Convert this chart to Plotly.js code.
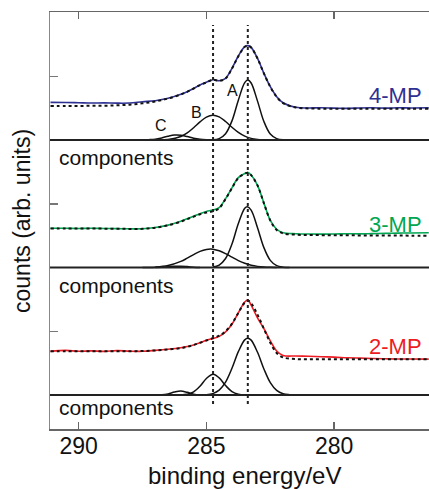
<!DOCTYPE html>
<html>
<head>
<meta charset="utf-8">
<script src="https://cdn.plot.ly/plotly-3.0.1.min.js"></script>
<style>html,body{margin:0;padding:0;background:#fff;}#chart{width:429px;height:489px;}</style>
</head>
<body>
<div id="chart"></div>
<script>
// binding energy grid (eV) for measured spectra and fits
const energy = [291.1, 290.5, 290, 289.5, 289, 288.5, 288, 287.5, 287, 286.5, 286, 285.75, 285.5, 285.25, 285, 284.75, 284.5, 284.25, 284, 283.75, 283.5, 283.375, 283.25, 283, 282.75, 282.5, 282.25, 282, 281.5, 281, 280.5, 280, 279.5, 279, 278.5, 278, 277.5, 277, 276.3];

// 4-MP (counts, arb. units, above its own components baseline)
const mp4Data = [0.59, 0.588, 0.585, 0.58, 0.583, 0.578, 0.58, 0.60, 0.617, 0.654, 0.717, 0.758, 0.81, 0.863, 0.905, 0.946, 0.93, 0.967, 1.124, 1.318, 1.464, 1.48, 1.454, 1.28, 1.046, 0.836, 0.68, 0.585, 0.513, 0.503, 0.506, 0.50, 0.497, 0.503, 0.505, 0.50, 0.506, 0.503, 0.505];
const mp4Fit  = [0.535, 0.535, 0.535, 0.536, 0.538, 0.545, 0.555, 0.575, 0.605, 0.650, 0.715, 0.756, 0.808, 0.861, 0.903, 0.944, 0.93, 0.965, 1.12, 1.315, 1.462, 1.478, 1.452, 1.278, 1.044, 0.834, 0.678, 0.58, 0.51, 0.495, 0.492, 0.49, 0.49, 0.49, 0.49, 0.49, 0.49, 0.49, 0.49];
// 3-MP
const mp3Data = [0.617, 0.615, 0.613, 0.615, 0.612, 0.61, 0.607, 0.608, 0.628, 0.665, 0.725, 0.765, 0.805, 0.845, 0.88, 0.90, 0.94, 1.08, 1.25, 1.41, 1.475, 1.49, 1.45, 1.29, 1.01, 0.74, 0.60, 0.545, 0.53, 0.525, 0.524, 0.525, 0.53, 0.528, 0.532, 0.535, 0.54, 0.542, 0.545];
const mp3Fit  = [0.612, 0.612, 0.612, 0.611, 0.61, 0.608, 0.606, 0.607, 0.625, 0.662, 0.72, 0.76, 0.798, 0.835, 0.862, 0.88, 0.93, 1.075, 1.245, 1.405, 1.472, 1.488, 1.448, 1.288, 1.008, 0.738, 0.59, 0.535, 0.515, 0.51, 0.508, 0.506, 0.505, 0.504, 0.503, 0.502, 0.501, 0.50, 0.50];
// 2-MP
const mp2Data = [0.685, 0.70, 0.686, 0.692, 0.684, 0.697, 0.688, 0.686, 0.70, 0.718, 0.742, 0.76, 0.785, 0.82, 0.86, 0.885, 0.92, 0.99, 1.11, 1.29, 1.46, 1.49, 1.41, 1.21, 1.04, 0.85, 0.69, 0.62, 0.612, 0.608, 0.60, 0.595, 0.585, 0.578, 0.572, 0.568, 0.565, 0.565, 0.563];
const mp2Fit  = [0.685, 0.685, 0.685, 0.686, 0.686, 0.687, 0.688, 0.69, 0.70, 0.715, 0.735, 0.755, 0.785, 0.82, 0.855, 0.89, 0.93, 1.0, 1.12, 1.29, 1.45, 1.48, 1.44, 1.26, 1.04, 0.82, 0.66, 0.59, 0.565, 0.56, 0.56, 0.56, 0.56, 0.56, 0.56, 0.56, 0.56, 0.56, 0.56];

// fitted components, 4-MP
const compA4E = [284.75, 284.5, 284.25, 284, 283.75, 283.5, 283.375, 283.25, 283, 282.75, 282.5, 282.25, 282];
const compA4  = [0.005, 0.022, 0.099, 0.30, 0.625, 0.90, 0.94, 0.894, 0.61, 0.29, 0.094, 0.021, 0.003];
const compB4E = [287.25, 287, 286.5, 286, 285.75, 285.5, 285.25, 285, 284.75, 284.5, 284.25, 284, 283.75, 283.5, 283.25, 283, 282.75, 282.5];
const compB4  = [0, 0.002, 0.009, 0.056, 0.112, 0.193, 0.284, 0.36, 0.39, 0.364, 0.29, 0.20, 0.118, 0.06, 0.026, 0.01, 0.003, 0];
const compC4E = [287.75, 287.5, 287.25, 287, 286.75, 286.5, 286.25, 286, 285.75, 285.5, 285.25, 285, 284.75];
const compC4  = [0, 0.003, 0.006, 0.013, 0.033, 0.059, 0.078, 0.076, 0.054, 0.028, 0.011, 0.003, 0];
// fitted components, 3-MP
const compA3E = [284.75, 284.5, 284.25, 284, 283.75, 283.5, 283.4, 283.25, 283, 282.75, 282.5, 282.25, 282, 281.75];
const compA3  = [0.008, 0.039, 0.141, 0.368, 0.69, 0.93, 0.954, 0.90, 0.625, 0.312, 0.112, 0.029, 0.005, 0];
const compB3E = [287.5, 287, 286.5, 286, 285.75, 285.5, 285.25, 285, 284.84, 284.75, 284.5, 284.25, 284, 283.75, 283.5, 283.25, 283, 282.75, 282.5, 282.25];
const compB3  = [0.001, 0.006, 0.030, 0.096, 0.147, 0.203, 0.253, 0.284, 0.29, 0.288, 0.264, 0.218, 0.162, 0.109, 0.066, 0.036, 0.018, 0.008, 0.003, 0];
const compC3E = [287, 286.75, 286.5, 286.25, 286, 285.75, 285.5, 285.25];
const compC3  = [0, 0.006, 0.013, 0.019, 0.02, 0.014, 0.006, 0];
// fitted components, 2-MP
const compA2E = [285, 284.75, 284.5, 284.25, 284, 283.75, 283.5, 283.38, 283.25, 283, 282.75, 282.5, 282.25, 282, 281.75, 281.5];
const compA2  = [0.005, 0.022, 0.076, 0.202, 0.419, 0.68, 0.865, 0.89, 0.861, 0.67, 0.409, 0.195, 0.073, 0.021, 0.005, 0];
const compB2E = [286, 285.75, 285.5, 285.25, 285, 284.74, 284.5, 284.25, 284, 283.75, 283.5];
const compB2  = [0.002, 0.011, 0.049, 0.138, 0.26, 0.325, 0.269, 0.148, 0.054, 0.013, 0.002];
const compC2E = [287, 286.75, 286.5, 286.25, 286, 285.75, 285.5, 285.25, 285];
const compC2  = [0, 0.003, 0.018, 0.047, 0.063, 0.042, 0.014, 0.002, 0];

const peakLines = [284.74, 283.38];
const xTicks = [290, 285, 280];
const sampleNames = ['4-MP', '3-MP', '2-MP'];

// layout constants
const offsets = [4, 2, 0];
const colors = ['#2e3192', '#00a651', '#ed1c24'];
const FONT = 'Liberation Sans, Arial, Helvetica, sans-serif';

const shift = (arr, o) => arr.map(v => v + o);
const traces = [];
const dataSets = [mp4Data, mp3Data, mp2Data];
const fitSets = [mp4Fit, mp3Fit, mp2Fit];
const comps = [
  [[compA4E, compA4], [compB4E, compB4], [compC4E, compC4]],
  [[compA3E, compA3], [compB3E, compB3], [compC3E, compC3]],
  [[compA2E, compA2], [compB2E, compB2], [compC2E, compC2]]
];
for (let i = 0; i < 3; i++) {
  comps[i].forEach(([e, v]) => traces.push({
    x: e, y: shift(v, offsets[i]), mode: 'lines', hoverinfo: 'skip',
    line: {color: '#111', width: 1.5, shape: 'spline', smoothing: 1}
  }));
  traces.push({x: energy, y: shift(dataSets[i], offsets[i]), mode: 'lines', hoverinfo: 'skip',
    line: {color: colors[i], width: 1.6, shape: 'spline', smoothing: 1}});
  traces.push({x: energy, y: shift(fitSets[i], offsets[i]), mode: 'lines', hoverinfo: 'skip',
    line: {color: '#111', width: 2, dash: 'dot', shape: 'spline', smoothing: 1}});
}

const shapes = [];
offsets.forEach(o => shapes.push({type: 'line', xref: 'paper', x0: 0, x1: 1, yref: 'y', y0: o, y1: o,
  line: {color: '#222', width: 2}}));
peakLines.forEach(x => shapes.push({type: 'line', xref: 'x', x0: x, x1: x, yref: 'y', y0: -0.141, y1: 5.804,
  line: {color: '#222', width: 2, dash: 'dot'}}));

const annotations = [];
const labelY = [4.70, 2.675, 0.755];
sampleNames.forEach((n, i) => annotations.push({x: 276.5, y: labelY[i], xref: 'x', yref: 'y', text: n,
  showarrow: false, xanchor: 'right', yanchor: 'middle', font: {family: FONT, size: 22, color: colors[i]}}));
[3.733, 1.725, -0.199].forEach(y => annotations.push({x: 290.84, y: y, xref: 'x', yref: 'y', text: 'components',
  showarrow: false, xanchor: 'left', yanchor: 'middle', font: {family: FONT, size: 21, color: '#111'}}));
[['A', 283.98, 4.784], ['B', 285.39, 4.431], ['C', 286.78, 4.22]].forEach(([t, x, y]) => annotations.push({
  x: x, y: y, xref: 'x', yref: 'y', text: t, showarrow: false, xanchor: 'center', yanchor: 'middle',
  font: {family: FONT, size: 16, color: '#111'}}));
annotations.push({x: 0.513, y: -0.112, xref: 'paper', yref: 'paper', text: 'binding energy/eV', showarrow: false,
  xanchor: 'center', yanchor: 'middle', font: {family: FONT, size: 24, color: '#111'}});
annotations.push({x: -0.0752, y: 0.5, xref: 'paper', yref: 'paper', text: 'counts (arb. units)', showarrow: false,
  textangle: -90, xanchor: 'center', yanchor: 'middle', font: {family: FONT, size: 23, color: '#111'}});

const layout = {
  width: 429, height: 489,
  margin: {l: 50, r: 0, t: 12, b: 60},
  paper_bgcolor: '#fff', plot_bgcolor: '#fff',
  showlegend: false,
  font: {family: FONT, color: '#111'},
  xaxis: {range: [291.12, 276.29], tickvals: xTicks, ticktext: xTicks.map(String), ticks: 'inside', ticklen: 7,
    tickwidth: 1.5, tickcolor: '#666', showline: true, linecolor: '#666', linewidth: 1.5, mirror: 'ticks',
    showgrid: false, zeroline: false, tickfont: {family: FONT, size: 23, color: '#111'}, ticklabelstandoff: -4},
  yaxis: {range: [-0.533, 6.008], tickvals: [0, 1, 2, 3, 4, 5, 6], ticks: 'inside', ticklen: 8, tickwidth: 1.5,
    tickcolor: '#777', showticklabels: false, showline: true, linecolor: '#888', linewidth: 1.5, mirror: false,
    showgrid: false, zeroline: false},
  shapes: shapes,
  annotations: annotations
};
Plotly.newPlot('chart', traces, layout, {displayModeBar: false, staticPlot: true});
</script>
</body>
</html>
